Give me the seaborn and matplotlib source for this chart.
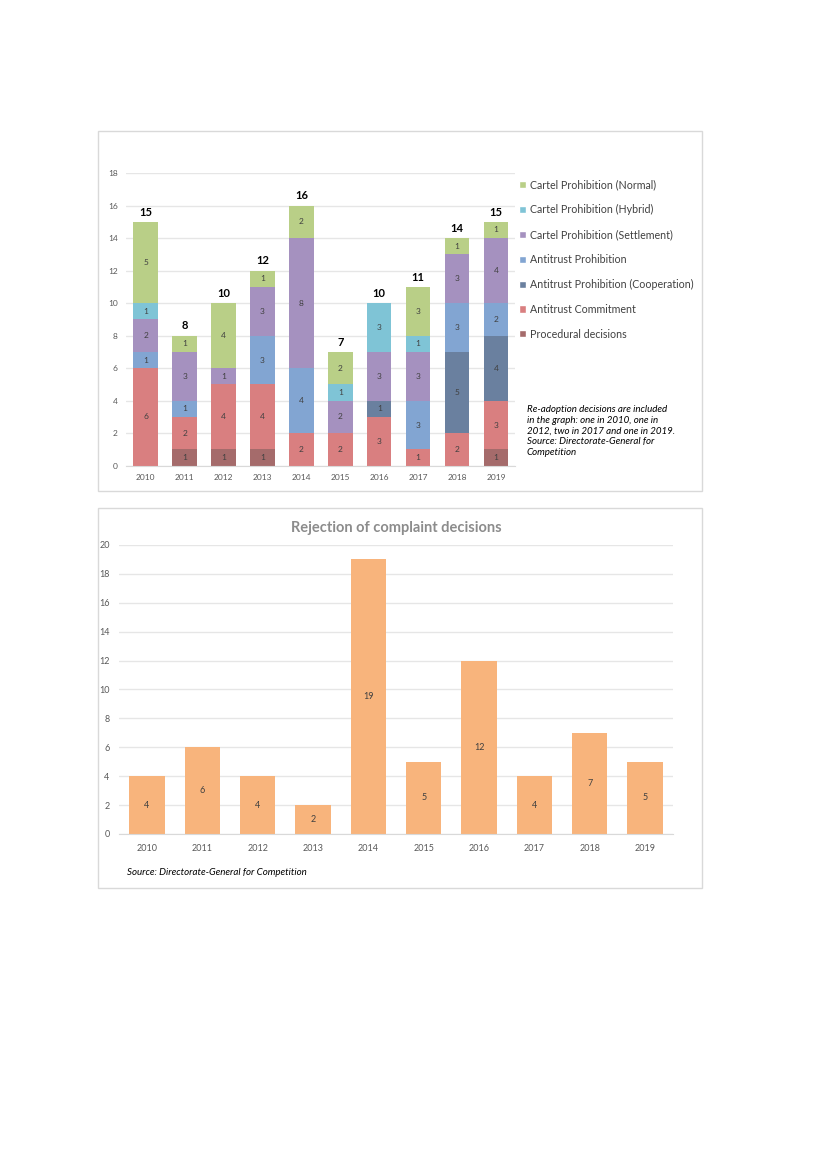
import numpy as np
import matplotlib
matplotlib.use("Agg")
import matplotlib.pyplot as plt
from matplotlib.patches import Patch, Rectangle
import seaborn as sns

# data
years = ["2010", "2011", "2012", "2013", "2014", "2015", "2016", "2017", "2018", "2019"]
procedural = [0, 1, 1, 1, 0, 0, 0, 0, 0, 1]
commitment = [6, 2, 4, 4, 2, 2, 3, 1, 2, 3]
cooperation = [0, 0, 0, 0, 0, 0, 1, 0, 5, 4]
antitrust_prohibition = [1, 1, 0, 3, 4, 0, 0, 3, 3, 2]
settlement = [2, 3, 1, 3, 8, 2, 3, 3, 3, 4]
hybrid = [1, 0, 0, 0, 0, 1, 3, 1, 0, 0]
normal = [5, 1, 4, 1, 2, 2, 0, 3, 1, 1]
rejections = [4, 6, 4, 2, 19, 5, 12, 4, 7, 5]

series = [
    ("Procedural decisions", procedural, "#a56b6b"),
    ("Antitrust Commitment", commitment, "#d97f80"),
    ("Antitrust Prohibition (Cooperation)", cooperation, "#6a809f"),
    ("Antitrust Prohibition", antitrust_prohibition, "#82a5d2"),
    ("Cartel Prohibition (Settlement)", settlement, "#a591bf"),
    ("Cartel Prohibition (Hybrid)", hybrid, "#7fc4d6"),
    ("Cartel Prohibition (Normal)", normal, "#b9cf87"),
]

sns.set_style("white")
plt.rcParams["font.family"] = ["Lato", "DejaVu Sans"]

fig = plt.figure(figsize=(8.27, 11.69), dpi=100)

# frames around both charts
for y0, h in [(0.58, 0.308), (0.2404, 0.325)]:
    fig.patches.append(Rectangle((0.1185, y0), 0.7303, h, transform=fig.transFigure,
                                 fill=False, edgecolor="#d9d9d9", lw=1))

# ---- top: stacked decisions ----
ax = fig.add_axes([0.1526, 0.6016, 0.4707, 0.2504])
bottom = np.zeros(len(years))
for name, vals, col in series:
    sns.barplot(x=years, y=vals, bottom=bottom, color=col, saturation=1, width=0.63,
                linewidth=0, errorbar=None, ax=ax)
    for i, v in enumerate(vals):
        if v > 0:
            ax.text(i, bottom[i] + v / 2, str(v), ha="center", va="center",
                    fontsize=6, color="#404040")
    bottom = bottom + np.array(vals)

for i, tot in enumerate(bottom):
    ax.annotate(str(int(tot)), (i, tot), xytext=(0, 3), textcoords="offset points",
                ha="center", va="bottom", fontsize=8, fontweight="bold", color="black")

ax.set_ylim(0, 18)
ax.set_xlim(-0.5, 9.5)
ax.set_yticks(range(0, 19, 2))
ax.yaxis.grid(True, color="#e6e6e6", lw=1)
ax.set_axisbelow(True)
sns.despine(ax=ax, left=True)
ax.spines["bottom"].set_color("#d9d9d9")
ax.tick_params(axis="both", length=0, labelsize=6, colors="#595959", pad=6)

handles = [Patch(facecolor=c, label=n) for n, v, c in series[::-1]]
fig.legend(handles=handles, loc="upper left", bbox_to_anchor=(0.616, 0.855),
           frameon=False, fontsize=7.7, handlelength=0.65, handleheight=0.65,
           handletextpad=0.35, labelspacing=1.3, labelcolor="#404040")

fig.text(0.637, 0.6535,
         "Re-adoption decisions are included\nin the graph: one in 2010, one in\n"
         "2012, two in 2017 and one in 2019.\nSource: Directorate-General for\nCompetition",
         fontsize=7, style="italic", color="black", va="top", ha="left", linespacing=1.25)

# ---- bottom: rejection of complaints ----
ax2 = fig.add_axes([0.1443, 0.2866, 0.6692, 0.2472])
sns.barplot(x=years, y=rejections, color="#f8b47c", saturation=1, width=0.64,
            linewidth=0, errorbar=None, ax=ax2)
for i, v in enumerate(rejections):
    ax2.text(i, v / 2, str(v), ha="center", va="center", fontsize=6.5, color="#404040")
ax2.set_ylim(0, 20)
ax2.set_xlim(-0.5, 9.5)
ax2.set_yticks(range(0, 21, 2))
ax2.yaxis.grid(True, color="#e6e6e6", lw=1)
ax2.set_axisbelow(True)
sns.despine(ax=ax2, left=True)
ax2.spines["bottom"].set_color("#d9d9d9")
ax2.tick_params(axis="both", length=0, labelsize=6.5, colors="#595959", pad=7)
ax2.set_title("Rejection of complaint decisions", fontsize=10.5, fontweight="bold",
              color="#8c8c8c", pad=9)

fig.text(0.1535, 0.2535, "Source: Directorate-General for Competition",
         fontsize=7, style="italic", color="black", va="center", ha="left")

fig.savefig("out.png", dpi=100)
